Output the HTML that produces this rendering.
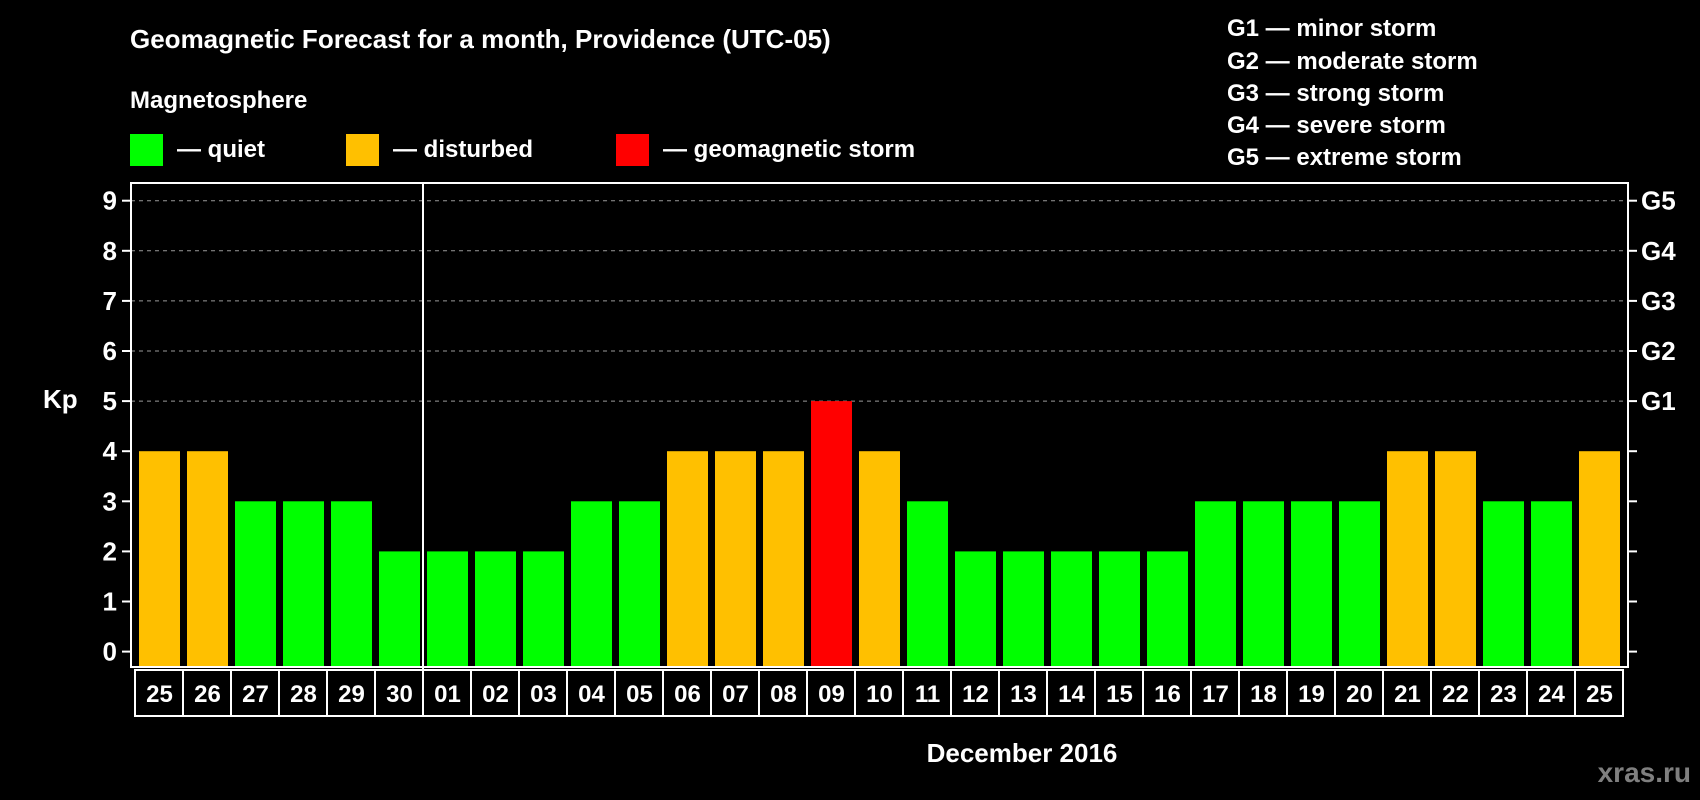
<!DOCTYPE html>
<html><head><meta charset="utf-8"><style>
html,body{margin:0;padding:0;background:#000;}
svg{display:block;font-family:"Liberation Sans",Arial,sans-serif;font-weight:bold;}
</style></head><body>
<svg id="chart" width="1700" height="800" viewBox="0 0 1700 800">
<rect width="1700" height="800" fill="#000"/>
<text x="130" y="48" fill="#fff" font-size="26">Geomagnetic Forecast for a month, Providence (UTC-05)</text>
<text x="130" y="108" fill="#fff" font-size="24">Magnetosphere</text>
<g><rect x="130" y="134" width="33" height="32" fill="#00ff00"/><text x="177" y="157" fill="#fff" font-size="24">— quiet</text></g>
<g><rect x="346" y="134" width="33" height="32" fill="#ffc000"/><text x="393" y="157" fill="#fff" font-size="24">— disturbed</text></g>
<g><rect x="616" y="134" width="33" height="32" fill="#ff0000"/><text x="663" y="157" fill="#fff" font-size="24">— geomagnetic storm</text></g>
<g fill="#fff" font-size="24">
<text x="1227" y="36">G1 — minor storm</text>
<text x="1227" y="69">G2 — moderate storm</text>
<text x="1227" y="101">G3 — strong storm</text>
<text x="1227" y="133">G4 — severe storm</text>
<text x="1227" y="165">G5 — extreme storm</text>
</g>
<text x="43" y="408" fill="#fff" font-size="26">Kp</text>
<text x="1022" y="762" fill="#fff" font-size="26" text-anchor="middle">December 2016</text>
<text x="1691" y="782" fill="#7f7f7f" font-size="28" text-anchor="end">xras.ru</text>
<g id="plot"></g>
</svg>
<script>
const days = ["25","26","27","28","29","30","01","02","03","04","05","06","07","08","09","10","11","12","13","14","15","16","17","18","19","20","21","22","23","24","25"];
const kp = [4,4,3,3,3,2,2,2,2,3,3,4,4,4,5,4,3,2,2,2,2,2,3,3,3,3,4,4,3,3,4];
const yTicks = [0,1,2,3,4,5,6,7,8,9];
const gLabels = ["G1","G2","G3","G4","G5"];
const gLevels = [5,6,7,8,9];

const NS="http://www.w3.org/2000/svg";
const L=131,R=1628,T=183,B=667,x0=139,pitch=48,bw=41;
function y(v){return 651.6 - v*50.1;}
function x(i){return x0 + i*pitch;}
function color(v){return v>=5?"#ff0000":(v>=4?"#ffc000":"#00ff00");}
const g=document.getElementById('plot');
function mk(tag,attrs,parent){const e=document.createElementNS(NS,tag);for(const k in attrs)e.setAttribute(k,attrs[k]);(parent||g).appendChild(e);return e;}

yTicks.forEach(v=>{
  if(v>=5){const gl=mk('line',{x1:L,x2:R,y1:y(v),y2:y(v),stroke:'#9a9a9a','stroke-width':1,'stroke-dasharray':'4,4'});
  
  }
  const t=mk('line',{x1:L-9,x2:L,y1:y(v),y2:y(v),stroke:'#fff','stroke-width':2});
  
  
  const t2=mk('line',{x1:R,x2:R+9,y1:y(v),y2:y(v),stroke:'#fff','stroke-width':2});
  
  
  const lb=mk('text',{x:L-14,y:y(v)+9,fill:'#fff','font-size':26,'text-anchor':'end'});
  lb.textContent=v;
  
  
});
gLabels.forEach((s,i)=>{
  const lb=mk('text',{x:R+13,y:y(gLevels[i])+9,fill:'#fff','font-size':26});
  lb.textContent=s;
  
  
});
kp.forEach((v,i)=>{
  const b=mk('rect',{x:x(i),y:y(v),width:bw,height:y(0)-y(v)+15,fill:color(v)});
  
  
  const c=mk('rect',{x:x(i)-4,y:B+3,width:pitch,height:46,fill:'none',stroke:'#fff','stroke-width':2});
  
  
  const t=mk('text',{x:x(i)+bw/2,y:B+35,fill:'#fff','font-size':24,'text-anchor':'middle'});
  t.textContent=days[i];
  
  
});
const fr=mk('rect',{x:L,y:T,width:R-L,height:B-T,fill:'none',stroke:'#fff','stroke-width':2});


const sep=mk('line',{x1:x(6)-4,x2:x(6)-4,y1:T,y2:B+49,stroke:'#fff','stroke-width':2});


</script>
</body></html>
